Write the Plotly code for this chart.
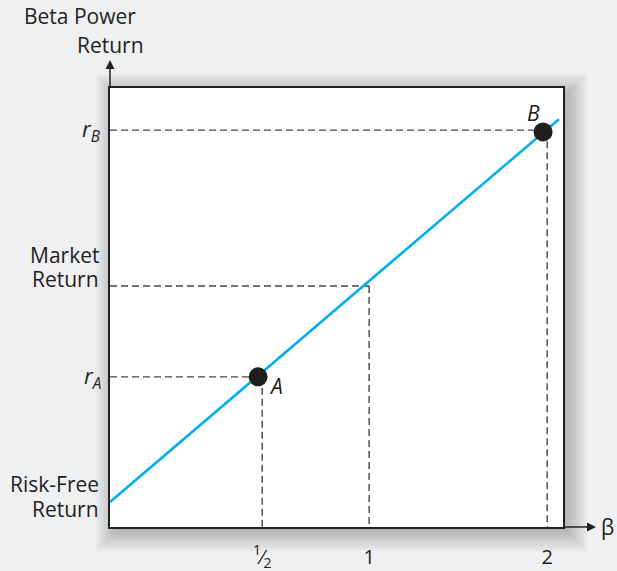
import plotly.graph_objects as go

# ---- data (stylized diagram units) ----
beta_ticks = ["<sup>1</sup>⁄<sub>2</sub>", "1", "2"]
beta_pos = [3.36, 5.72, 9.65]
level_names = ["r_A", "Market", "r_B"]
level_y = [3.42, 5.49, 9.04]
level_x_end = [3.27, 5.72, 9.56]
level_x_drop = [3.36, 5.72, 9.65]
risk_free = 0.57
sml_x = [0.0, 9.91]
sml_y = [0.57, 9.29]
point_names = ["A", "B"]
point_x = [3.27, 9.56]
point_y = [3.42, 9.00]

FONT = "Open Sans"
TXT = "#231f20"
DASH = "#454545"
BG = "#eff0f2"
FS = 21

fig = go.Figure()

# dashed guide lines
for yv, xe, xd in zip(level_y, level_x_end, level_x_drop):
    fig.add_trace(go.Scatter(x=[0, xe], y=[yv, yv], mode="lines",
                             line=dict(color=DASH, width=1.4, dash="7px,4px"),
                             hoverinfo="skip", showlegend=False))
    fig.add_trace(go.Scatter(x=[xd, xd], y=[yv, 0], mode="lines",
                             line=dict(color=DASH, width=1.4, dash="7px,4px"),
                             hoverinfo="skip", showlegend=False))

# security market line
fig.add_trace(go.Scatter(x=sml_x, y=sml_y, mode="lines",
                         line=dict(color="#00aeef", width=2.6),
                         hoverinfo="skip", showlegend=False))

# points
fig.add_trace(go.Scatter(x=point_x, y=point_y, mode="markers",
                         marker=dict(color="#1f1d1e", size=19),
                         hoverinfo="skip", showlegend=False))

# plot-area geometry in pixels (for shadow / label placement)
L, R, T, B = 110, 563, 88, 527
W, H = R - L, B - T

def px(x):
    return (x - L) / W

def py(y):
    return (B - y) / H

shapes = []
n = 12
for i in range(n):
    e = i * 1.8
    off = 5
    shapes.append(dict(type="rect", xref="paper", yref="paper",
                       x0=px(L + off - e), x1=px(R + off + e),
                       y0=py(B + off + e), y1=py(T + off - e),
                       line=dict(width=0), fillcolor="rgba(0,0,0,0.02)",
                       layer="below"))
shapes.append(dict(type="rect", xref="paper", yref="paper",
                   x0=0, x1=1, y0=0, y1=1,
                   line=dict(width=0), fillcolor="white", layer="below"))

ann = []
# axis arrows
ann.append(dict(xref="paper", yref="paper", x=0, y=py(60), ax=0, ay=29,
                axref="pixel", ayref="pixel", text="", showarrow=True,
                arrowhead=2, arrowsize=1.2, arrowwidth=1.5, arrowcolor="#231f20",
                standoff=0))
ann.append(dict(xref="paper", yref="paper", x=px(596), y=0, ax=-34, ay=0,
                text="", showarrow=True,
                arrowhead=2, arrowsize=1.2, arrowwidth=1.5, arrowcolor="#231f20",
                standoff=0))
ann.append(dict(xref="paper", yref="paper", x=px(599), y=0, xanchor="left",
                yanchor="middle", text="β", showarrow=False,
                font=dict(family=FONT, size=FS, color=TXT)))

# axis titles
ann.append(dict(xref="paper", yref="paper", x=px(80), y=py(16), xanchor="center",
                yanchor="middle", text="Beta Power", showarrow=False,
                font=dict(family=FONT, size=FS, color=TXT)))
ann.append(dict(xref="paper", yref="paper", x=px(110), y=py(45), xanchor="center",
                yanchor="middle", text="Return", showarrow=False,
                font=dict(family=FONT, size=FS, color=TXT)))

# y-side labels
ann.append(dict(xref="paper", yref="y", x=0, xshift=-7, y=level_y[2],
                xanchor="right", yanchor="middle",
                text="<i>r</i><sub><i>B</i></sub>", showarrow=False,
                font=dict(family=FONT, size=22, color=TXT)))
ann.append(dict(xref="paper", yref="y", x=0, xshift=-7, y=level_y[0],
                xanchor="right", yanchor="middle",
                text="<i>r</i><sub><i>A</i></sub>", showarrow=False,
                font=dict(family=FONT, size=22, color=TXT)))
for txt, ypx in [("Market", 255), ("Return", 279), ("Risk-Free", 484), ("Return", 509)]:
    ann.append(dict(xref="paper", yref="paper", x=0, xshift=-9, y=py(ypx),
                    xanchor="right", yanchor="middle",
                    text=txt, showarrow=False,
                    font=dict(family=FONT, size=FS, color=TXT)))

# point labels
ann.append(dict(xref="x", yref="y", x=point_x[0], y=point_y[0], xshift=18, yshift=-9,
                text="<i>A</i>", showarrow=False,
                font=dict(family=FONT, size=FS, color=TXT)))
ann.append(dict(xref="x", yref="y", x=point_x[1], y=point_y[1], xshift=-10, yshift=19,
                text="<i>B</i>", showarrow=False,
                font=dict(family=FONT, size=FS, color=TXT)))

fig.update_layout(
    width=617, height=571, autosize=False,
    margin=dict(l=L, r=617 - R, t=T, b=571 - B, pad=0),
    paper_bgcolor=BG, plot_bgcolor="rgba(0,0,0,0)",
    shapes=shapes, annotations=ann,
    showlegend=False,
    font=dict(family=FONT, color=TXT),
)
fig.update_xaxes(range=[0, 10], showgrid=False, zeroline=False, automargin=False,
                 showline=True, mirror=True, linecolor="#231f20", linewidth=1.5,
                 tickvals=beta_pos, ticktext=beta_ticks, ticks="",
                 ticklabelstandoff=11,
                 tickfont=dict(family=FONT, size=20, color=TXT))
fig.update_yaxes(range=[0, 10], showgrid=False, zeroline=False, automargin=False,
                 showline=True, mirror=True, linecolor="#231f20", linewidth=1.5,
                 showticklabels=False, ticks="")

fig.write_html("out.html", config={"displayModeBar": False, "responsive": False},
               post_script="document.body.style.margin='0';document.body.style.background='%s';" % BG)
